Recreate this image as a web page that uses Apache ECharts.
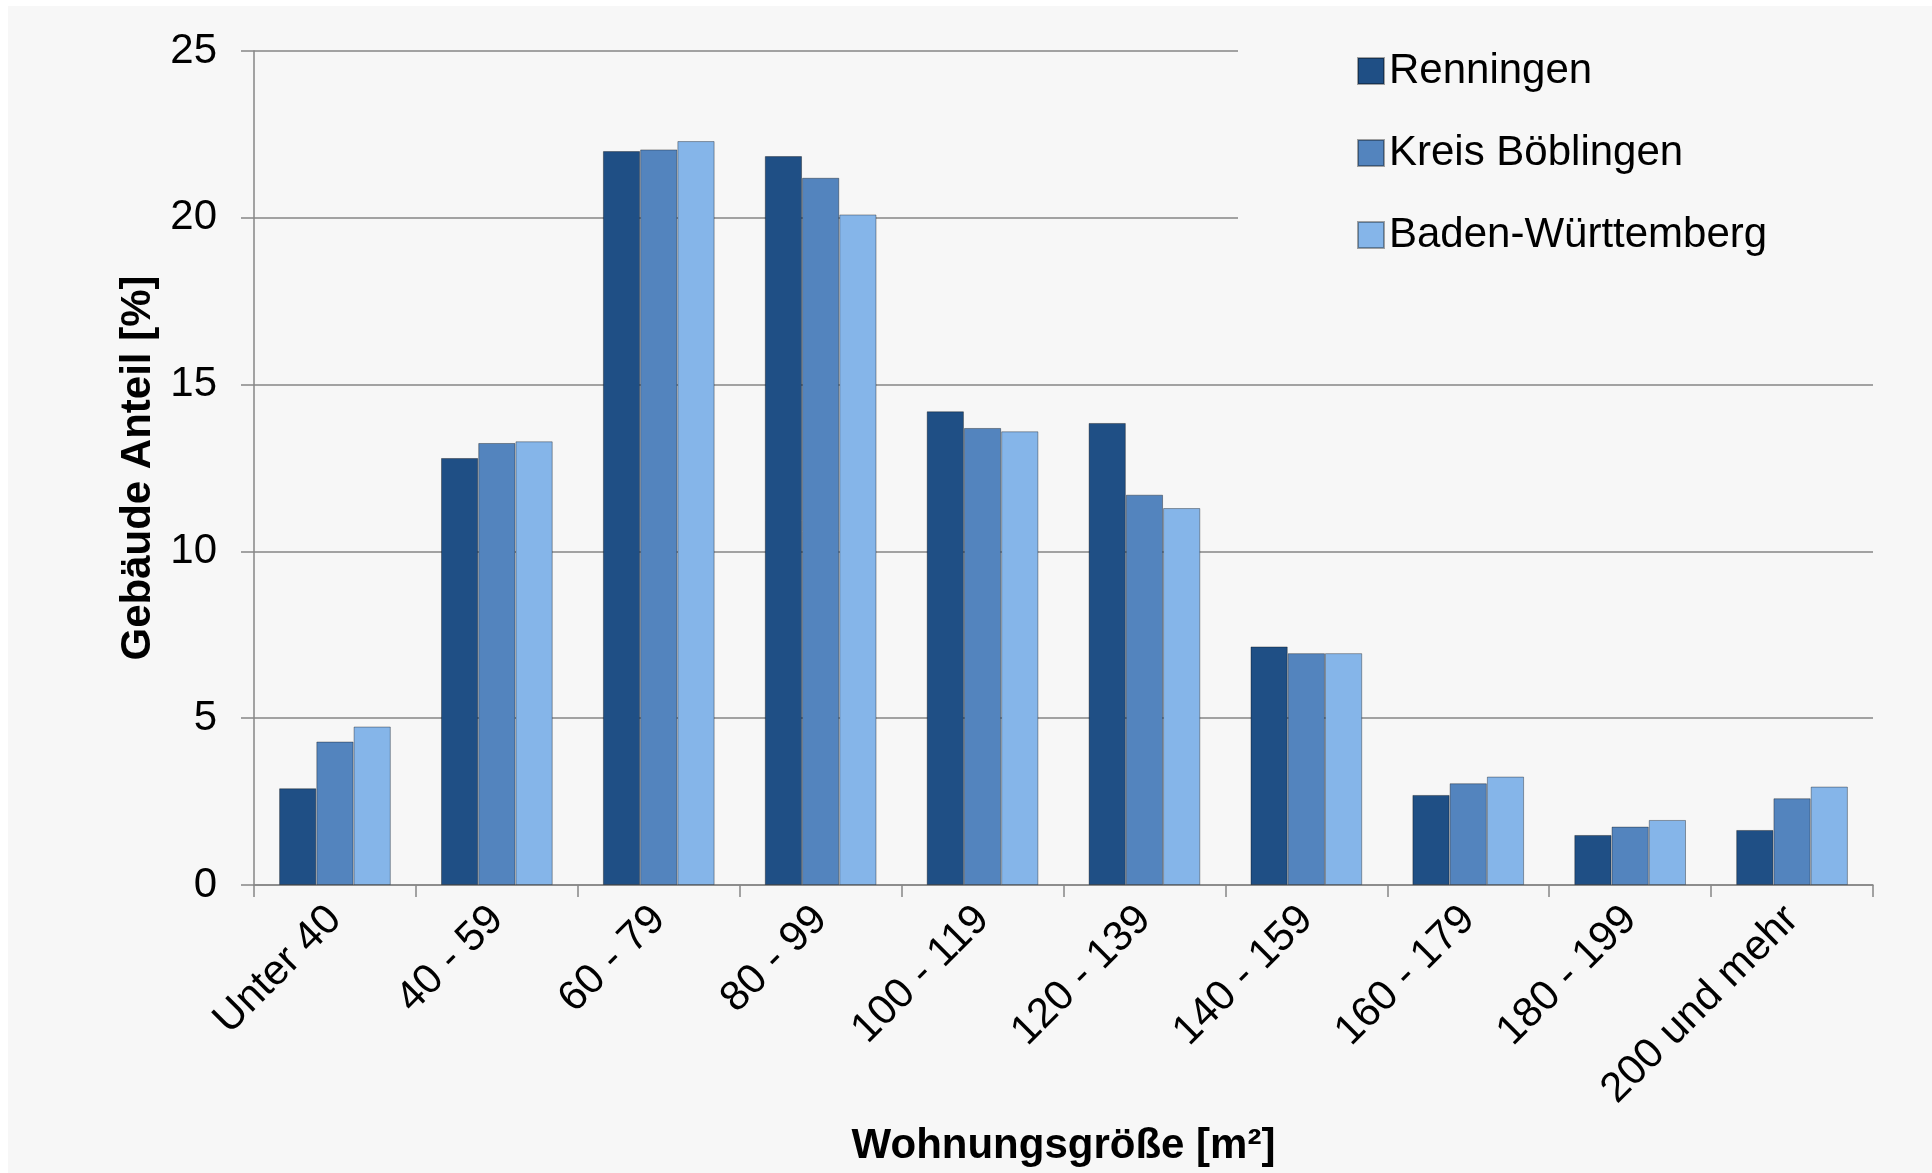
<!DOCTYPE html>
<html>
<head>
<meta charset="utf-8">
<script src="https://cdn.jsdelivr.net/npm/echarts@6/dist/echarts.min.js"></script>
<style>
  html, body { margin: 0; padding: 0; background: #ffffff; }
  #chart { position: absolute; left: 8px; top: 6px; width: 1924px; height: 1167px; }
</style>
</head>
<body>
<div id="chart"></div>
<script>
// Wohnungsgröße categories
var categories = ['Unter 40', '40 - 59', '60 - 79', '80 - 99', '100 - 119',
  '120 - 139', '140 - 159', '160 - 179', '180 - 199', '200 und mehr'];
var seriesNames = ['Renningen', 'Kreis Böblingen', 'Baden-Württemberg'];
// Gebäude Anteil [%]
var renningen = [2.9, 12.8, 22.0, 21.85, 14.2, 13.85, 7.15, 2.7, 1.5, 1.65];
var kreisBoeblingen = [4.3, 13.25, 22.05, 21.2, 13.7, 11.7, 6.95, 3.05, 1.75, 2.6];
var badenWuerttemberg = [4.75, 13.3, 22.3, 20.1, 13.6, 11.3, 6.95, 3.25, 1.95, 2.95];
var yTicks = [0, 5, 10, 15, 20, 25];

var colors = ['#1f4f85', '#5384be', '#85b5e9'];
var fontFam = "'Liberation Sans', Arial, sans-serif";

var chart = echarts.init(document.getElementById('chart'));

var values = [renningen, kreisBoeblingen, badenWuerttemberg];
var series = seriesNames.map(function (name, i) {
  return {
    name: name,
    type: 'bar',
    data: values[i],
    barGap: '0%',
    barCategoryGap: '31%',
    itemStyle: {
      color: colors[i],
      borderColor: 'rgba(0,0,0,0.35)',
      borderWidth: 1
    }
  };
});

var option = {
  backgroundColor: '#f7f7f7',
  animation: false,
  textStyle: { fontFamily: fontFam },
  grid: { left: 246, right: 59, top: 45, bottom: 288 },
  legend: {
    orient: 'vertical',
    left: 1230,
    top: 24,
    z: 10,
    backgroundColor: '#f7f7f7',
    padding: [20, 130, 20, 119],
    itemWidth: 26,
    itemHeight: 26,
    itemGap: 40,
    icon: 'rect',
    textStyle: { fontSize: 42, lineHeight: 42, color: '#000', fontFamily: fontFam },
    data: seriesNames
  },
  xAxis: {
    type: 'category',
    data: categories,
    name: 'Wohnungsgröße [m²]',
    nameLocation: 'middle',
    nameGap: 240,
    nameTextStyle: { fontSize: 42, fontWeight: 'bold', color: '#000', fontFamily: fontFam },
    axisLine: { lineStyle: { color: '#868686', width: 1.5 } },
    axisTick: { show: true, length: 12, lineStyle: { color: '#868686', width: 1.5 } },
    axisLabel: { rotate: 45, fontSize: 42, color: '#000', margin: 28, interval: 0, fontFamily: fontFam }
  },
  yAxis: {
    type: 'value',
    min: yTicks[0],
    max: yTicks[yTicks.length - 1],
    interval: 5,
    name: 'Gebäude Anteil [%]',
    nameLocation: 'middle',
    nameGap: 92,
    nameTextStyle: { fontSize: 42, fontWeight: 'bold', color: '#000', fontFamily: fontFam },
    axisLine: { show: true, lineStyle: { color: '#868686', width: 1.5 } },
    axisTick: { show: true, length: 13, lineStyle: { color: '#868686', width: 1.5 } },
    axisLabel: { fontSize: 42, color: '#000', margin: 37, fontFamily: fontFam },
    splitLine: { lineStyle: { color: '#868686', width: 1.5 } }
  },
  series: series
};

chart.setOption(option);
</script>
</body>
</html>
